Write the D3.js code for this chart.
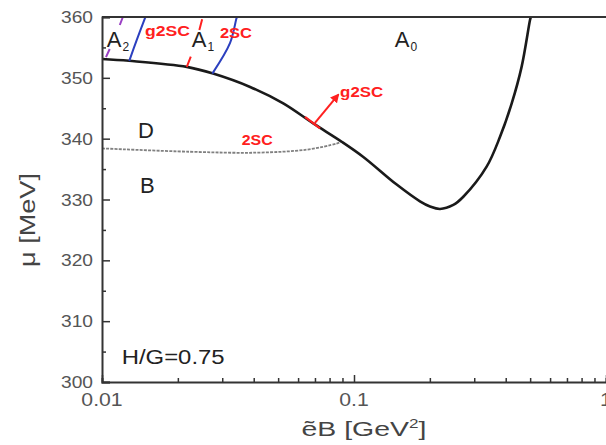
<!DOCTYPE html>
<html>
<head>
<meta charset="utf-8">
<script src="https://cdn.jsdelivr.net/npm/d3@7"></script>
<style>
  body { margin: 0; background: #fff; }
  text { font-family: "Liberation Sans", Arial, sans-serif; }
</style>
</head>
<body>
<script>
// ---- data (eB in GeV^2, mu in MeV) ----
const mainEB = [0.01, 0.0128, 0.0217, 0.0276, 0.0387, 0.0524, 0.0689, 0.0894, 0.1089, 0.1477, 0.1827, 0.2003, 0.2194, 0.2478, 0.2715, 0.336, 0.3797, 0.4225, 0.4625, 0.4994, 0.503]
const mainMu = [353.1, 352.8, 351.8, 350.7, 348.5, 345.8, 342.5, 339.5, 337.0, 332.45, 329.7, 328.85, 328.45, 329.1, 330.45, 335.4, 340.3, 345.8, 351.8, 359.5, 360]

const dotEB = [0.01, 0.0223, 0.041, 0.065, 0.0853, 0.0894]
const dotMu = [338.4, 337.85, 337.7, 338.2, 339.2, 339.5]

const blueA2EB = [0.01283, 0.01373, 0.01481, 0.01488]
const blueA2Mu = [352.8, 356.2, 359.8, 360]
const blueA1EB = [0.0274, 0.0322, 0.0342, 0.0344]
const blueA1Mu = [350.7, 355.7, 359.8, 360]

const redA1EB = [0.0217, 0.0234, 0.0251]
const redA1Mu = [351.8, 355.4, 360]
const purpleEB = [0.01037, 0.01126, 0.0121]
const purpleMu = [353.4, 356.7, 360]

const redSegEB = [0.0639, 0.0733]
const redSegMu = [343.6, 341.7]
const arrowEB = [0.0700, 0.0865]
const arrowMu = [342.6, 347.2]

const yTicks = [300, 310, 320, 330, 340, 350, 360]
const xTickLabels = ["0.01", "0.1", "1"]

const svgWidth = 606
const svgHeight = 445
const pLeft = 102, pRight = 606, pTop = 17, pBottom = 382

let svg = d3.select("body").append("svg")
    .attr("width", svgWidth)
    .attr("height", svgHeight)

let x = d3.scaleLog().domain([0.01, 1]).range([pLeft, pRight])
let y = d3.scaleLinear().domain([300, 360]).range([pBottom, pTop])

svg.append("defs").append("marker")
    .attr("id", "arr")
    .attr("viewBox", "0 0 10 10")
    .attr("refX", 8).attr("refY", 5)
    .attr("markerWidth", 4.5).attr("markerHeight", 4.5)
    .attr("orient", "auto")
    .append("path")
    .attr("d", "M0,0 L10,5 L0,10 z")
    .attr("fill", "#ff2020")

const zip = (a, b) => a.map((v, i) => [v, b[i]])
let line = d3.line().x(d => x(d[0])).y(d => y(d[1])).curve(d3.curveCatmullRom.alpha(0.5))
let straight = d3.line().x(d => x(d[0])).y(d => y(d[1]))

// text that gets stretched sideways to the width seen in the picture
function wideText(px, py, str, size, width, opts = {}) {
    let g = svg.append("g")
    let t = g.append("text")
        .attr("text-anchor", opts.anchor || "start")
        .attr("fill", opts.fill || "#222")
        .style("font-size", size + "px")
        .style("font-weight", opts.bold ? "bold" : "normal")
        .text(str)
    let k = width ? width / t.node().getComputedTextLength() : 1
    g.attr("transform", `translate(${px},${py})` + (opts.rot ? ` rotate(${opts.rot})` : "") + ` scale(${k},1)`)
    return t
}

let plot = svg.append("g")

// gray dotted line
plot.append("path")
    .attr("d", line(zip(dotEB, dotMu)))
    .attr("fill", "none")
    .attr("stroke", "#808080")
    .attr("stroke-width", 1.8)
    .attr("stroke-dasharray", "3,1.2")

// main black curve
plot.append("path")
    .attr("d", line(zip(mainEB, mainMu)))
    .attr("fill", "none")
    .attr("stroke", "#1a1a1a")
    .attr("stroke-width", 2.6)

// blue lines
;[zip(blueA2EB, blueA2Mu), zip(blueA1EB, blueA1Mu)].forEach(pts => {
    plot.append("path")
        .attr("d", line(pts))
        .attr("fill", "none")
        .attr("stroke", "#2b3fbf")
        .attr("stroke-width", 2)
})

// dashed red / purple
plot.append("path")
    .attr("d", line(zip(redA1EB, redA1Mu)))
    .attr("fill", "none")
    .attr("stroke", "#ff2020")
    .attr("stroke-width", 2)
    .attr("stroke-dasharray", "11,28")

plot.append("path")
    .attr("d", line(zip(purpleEB, purpleMu)))
    .attr("fill", "none")
    .attr("stroke", "#9a3fc4")
    .attr("stroke-width", 2)
    .attr("stroke-dasharray", "9,26")

plot.append("path")
    .attr("d", straight(zip(redSegEB, redSegMu)))
    .attr("fill", "none")
    .attr("stroke", "#ff2020")
    .attr("stroke-width", 2.2)

plot.append("path")
    .attr("d", straight(zip(arrowEB, arrowMu)))
    .attr("fill", "none")
    .attr("stroke", "#ff2020")
    .attr("stroke-width", 2)
    .attr("marker-end", "url(#arr)")

// frame + axes
svg.append("line")
    .attr("x1", pLeft).attr("x2", pRight).attr("y1", pTop).attr("y2", pTop)
    .attr("stroke", "#333").attr("stroke-width", 2)

let yAxis = svg.append("g")
    .attr("transform", `translate(${pLeft},0)`)
    .call(d3.axisLeft(y).tickValues(d3.range(300, 361, 5)).tickSize(-8).tickFormat(""))
yAxis.selectAll(".tick line")
    .attr("x2", d => d % 10 === 0 ? 8 : 4)
    .attr("stroke", "#333").attr("stroke-width", 1.5)
yAxis.select(".domain").attr("stroke", "#333").attr("stroke-width", 2)

yTicks.forEach(v => wideText(pLeft - 9, y(v) + 6, v, 16.5, 32, {anchor: "end", fill: "#555"}))

let minorX = []
;[0.01, 0.1].forEach(dec => { for (let k = 1; k <= 9; k++) minorX.push(dec * k) })
minorX.push(1)

let xAxis = svg.append("g")
    .attr("transform", `translate(0,${pBottom})`)
    .call(d3.axisBottom(x).tickValues(minorX).tickSize(-4).tickFormat(""))
xAxis.selectAll(".tick line")
    .attr("y2", d => [0.01, 0.1, 1].includes(+d.toFixed(6)) ? -7 : -4)
    .attr("stroke", "#333").attr("stroke-width", 1.5)
xAxis.select(".domain").attr("stroke", "#333").attr("stroke-width", 2)

xTickLabels.forEach(s => {
    let t = wideText(x(+s), pBottom + 24, s, 18, null, {anchor: "middle", fill: "#555"})
    t.node().parentNode.setAttribute("transform", `translate(${x(+s)},${pBottom + 24}) scale(1.18,1)`)
})

// axis titles
wideText(35, 220, "\u03bc [MeV]", 22, 94, {anchor: "middle", fill: "#444", rot: -90})

let xt = wideText(364, 436, "", 20, null, {anchor: "middle", fill: "#444"})
xt.append("tspan").text("\u1ebdB [GeV")
xt.append("tspan").attr("dy", -8).style("font-size", "12px").text("2")
xt.append("tspan").attr("dy", 8).text("]")
xt.node().parentNode.setAttribute("transform",
    `translate(364,436) scale(${125 / xt.node().getComputedTextLength()},1)`)

// region labels
const regionLabels = [
    {t: "A", s: "2", eb: 0.01044, mu: 355.15},
    {t: "A", s: "1", eb: 0.02271, mu: 354.99},
    {t: "A", s: "0", eb: 0.1452, mu: 355.12},
    {t: "D", s: "", eb: 0.0139, mu: 340.11},
    {t: "B", s: "", eb: 0.01414, mu: 331.15},
]
regionLabels.forEach(d => {
    let tx = svg.append("text")
        .attr("x", x(d.eb)).attr("y", y(d.mu))
        .attr("fill", "#222")
        .style("font-size", "22px")
    tx.append("tspan").text(d.t)
    if (d.s) tx.append("tspan").attr("dx", 1).attr("dy", 4).style("font-size", "12px").text(d.s)
})

const redLabels = [
    {t: "g2SC", eb: 0.01481, mu: 356.88, w: 45},
    {t: "2SC", eb: 0.02937, mu: 356.55, w: 32},
    {t: "2SC", eb: 0.03584, mu: 339.04, w: 31},
    {t: "g2SC", eb: 0.08809, mu: 346.85, w: 43},
]
redLabels.forEach(d => wideText(x(d.eb), y(d.mu), d.t, 14, d.w, {fill: "#ff2020", bold: true}))

wideText(x(0.01197), y(302.96), "H/G=0.75", 21, 103, {fill: "#222"})
</script>
</body>
</html>
